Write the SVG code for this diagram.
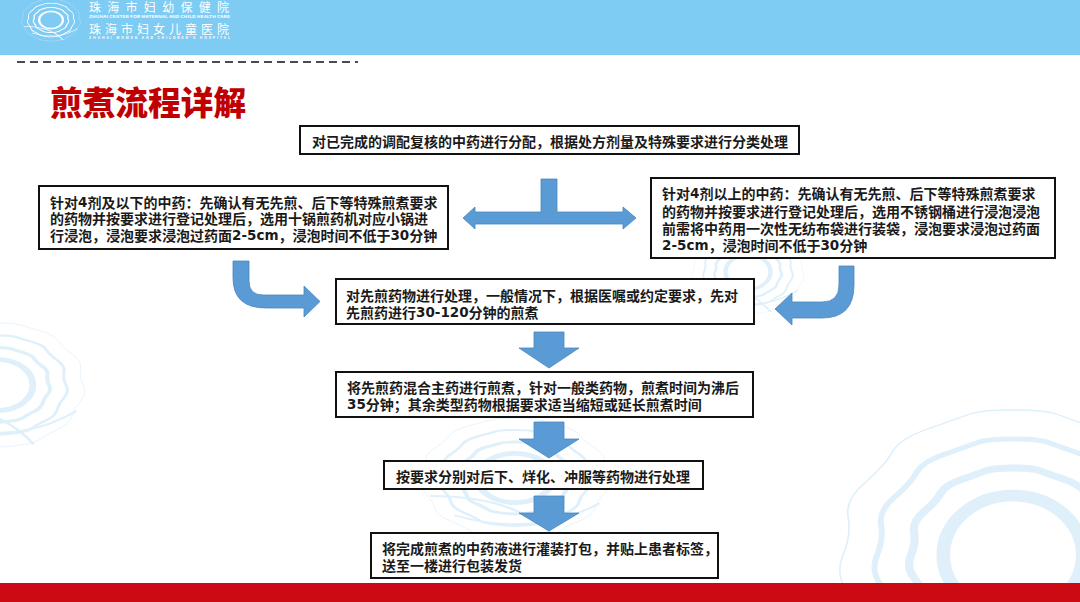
<svg xmlns="http://www.w3.org/2000/svg" width="1080" height="602" viewBox="0 0 1080 602">
<style>
text{font-family:"Noto Sans CJK SC","Noto Sans",sans-serif;}
.t{font-size:14px;font-weight:700;fill:#1a1a1a;dominant-baseline:central}
.n{font-family:"DejaVu Sans",sans-serif;font-size:13.500px;font-weight:700}
.b{fill:#fff;stroke:#111;stroke-width:2}
.a{fill:#5b9bd5;stroke:#4a86bb;stroke-width:.8}
.w{fill:none;stroke:#dff0fb}
.l{fill:none;stroke:#fff;opacity:.95}
.h{fill:#fff}
</style>
<defs>
<path id="wave" d="M100 0Q105 14 97 26T87 50 71 71 50 87 26 97 0 100-26 97-50 87-71 71-87 50-97 26-100 0-97-26-87-50-71-71-50-87-26-97 0-100 26-97 50-87 71-71 87-50 97-26 100 0Z"/>
<g id="shell">
<use href="#wave" stroke-width="1"/>
<use href="#wave" transform="scale(.8)" stroke-width="4.400"/>
<use href="#wave" transform="scale(.6)" stroke-width="8"/>
<circle r="41" stroke-width="8"/>
<path d="M-92 30Q0 30 42 96" stroke-width="3.500"/>
<path d="M-66 62Q20 100 92 42" stroke-width="3"/>
</g>
</defs>
<rect width="1080" height="602" fill="#fff"/>
<g id="watermarks">
<use href="#shell" class="w" transform="translate(-2 385) scale(.85 .62)"/>
<use href="#shell" class="w" transform="translate(748 272) scale(.55 .42)"/>
<use href="#shell" class="w" transform="translate(515 478) scale(.92 .6)"/>
<use href="#shell" class="w" transform="translate(1013 555) scale(1.7 1.45)"/>
</g>
<g id="header">
<rect width="1080" height="55" fill="#7ecbf3"/>
<use href="#shell" class="l" transform="translate(51 20) scale(.29 .21)"/>
<text class="h" x="89" y="12" font-size="12" textLength="140" lengthAdjust="spacing">珠海市妇幼保健院</text>
<text class="h" x="89" y="18" font-size="3.500" font-weight="700" textLength="141" lengthAdjust="spacingAndGlyphs">ZHUHAI CENTER FOR MATERNAL AND CHILD HEALTH CARE</text>
<text class="h" x="89" y="34" font-size="12" textLength="140" lengthAdjust="spacing">珠海市妇女儿童医院</text>
<text class="h" x="89" y="39" font-size="3.500" font-weight="700" textLength="141" lengthAdjust="spacing">ZHUHAI WOMEN AND CHILDREN'S HOSPITAL</text>
</g>
<line id="divider" x1="17" y1="62" x2="358" y2="62" stroke="#111" stroke-width="1.500" stroke-dasharray="8 5"/>
<text id="title" x="50" y="115" font-size="32.700" font-weight="900" fill="#c00000">煎煮流程详解</text>
<rect id="footer" y="583" width="1080" height="19" fill="#cb0a13"/>
<g id="connectors">
<path class="a" d="M541 179H557V212H623V207L636 218 623 229V224H475V229L463 218 475 207V212H541Z"/>
<path class="a" d="M233 261H249V281Q249 295 263 295H304V286L320 301.500 304 317V308H266Q233 308 233 278Z"/>
<path class="a" d="M839 266H854V285Q854 318 822 318H792V325L775 309 792 293V302H822Q839 302 839 285Z"/>
<path class="a" d="M534 332H564V348H579L549 368 519 348H534Z"/>
<path class="a" d="M534 422H564V439H579L549 458 519 439H534Z"/>
<path class="a" d="M534 496H564V513H579L549 531 519 513H534Z"/>
</g>
<g id="node-top"><rect class="b" x="300" y="126" width="499" height="28"/><text class="t" x="312" y="141">对已完成的调配复核的中药进行分配，根据处方剂量及特殊要求进行分类处理</text></g>
<g id="node-left"><rect class="b" x="39" y="186" width="409" height="63"/>
<text class="t" x="50" y="202">针对<tspan class="n">4</tspan>剂及以下的中药：先确认有无先煎、后下等特殊煎煮要求</text>
<text class="t" x="50" y="218">的药物并按要求进行登记处理后，选用十锅煎药机对应小锅进</text>
<text class="t" x="50" y="235">行浸泡，浸泡要求浸泡过药面<tspan class="n">2-5cm</tspan>，浸泡时间不低于<tspan class="n">30</tspan>分钟</text></g>
<g id="node-right"><rect class="b" x="651" y="178" width="404" height="80"/>
<text class="t" x="662" y="193">针对<tspan class="n">4</tspan>剂以上的中药：先确认有无先煎、后下等特殊煎煮要求</text>
<text class="t" x="662" y="211">的药物并按要求进行登记处理后，选用不锈钢桶进行浸泡浸泡</text>
<text class="t" x="662" y="228">前需将中药用一次性无纺布袋进行装袋，浸泡要求浸泡过药面</text>
<text class="t" x="662" y="245"><tspan class="n">2-5cm</tspan>，浸泡时间不低于<tspan class="n">30</tspan>分钟</text></g>
<g id="node-pre"><rect class="b" x="336" y="279" width="418" height="45"/>
<text class="t" x="346" y="295">对先煎药物进行处理，一般情况下，根据医嘱或约定要求，先对</text>
<text class="t" x="346" y="312">先煎药进行<tspan class="n">30-120</tspan>分钟的煎煮</text></g>
<g id="node-main"><rect class="b" x="336" y="372" width="417" height="45"/>
<text class="t" x="347" y="387">将先煎药混合主药进行煎煮，针对一般类药物，煎煮时间为沸后</text>
<text class="t" x="347" y="404"><tspan class="n">35</tspan>分钟；其余类型药物根据要求适当缩短或延长煎煮时间</text></g>
<g id="node-later"><rect class="b" x="384" y="461" width="319" height="28"/>
<text class="t" x="396" y="476">按要求分别对后下、烊化、冲服等药物进行处理</text></g>
<g id="node-pack"><rect class="b" x="371" y="533" width="347" height="45"/>
<text class="t" x="382" y="548">将完成煎煮的中药液进行灌装打包，并贴上患者标签，</text>
<text class="t" x="382" y="565">送至一楼进行包装发货</text></g>
</svg>
